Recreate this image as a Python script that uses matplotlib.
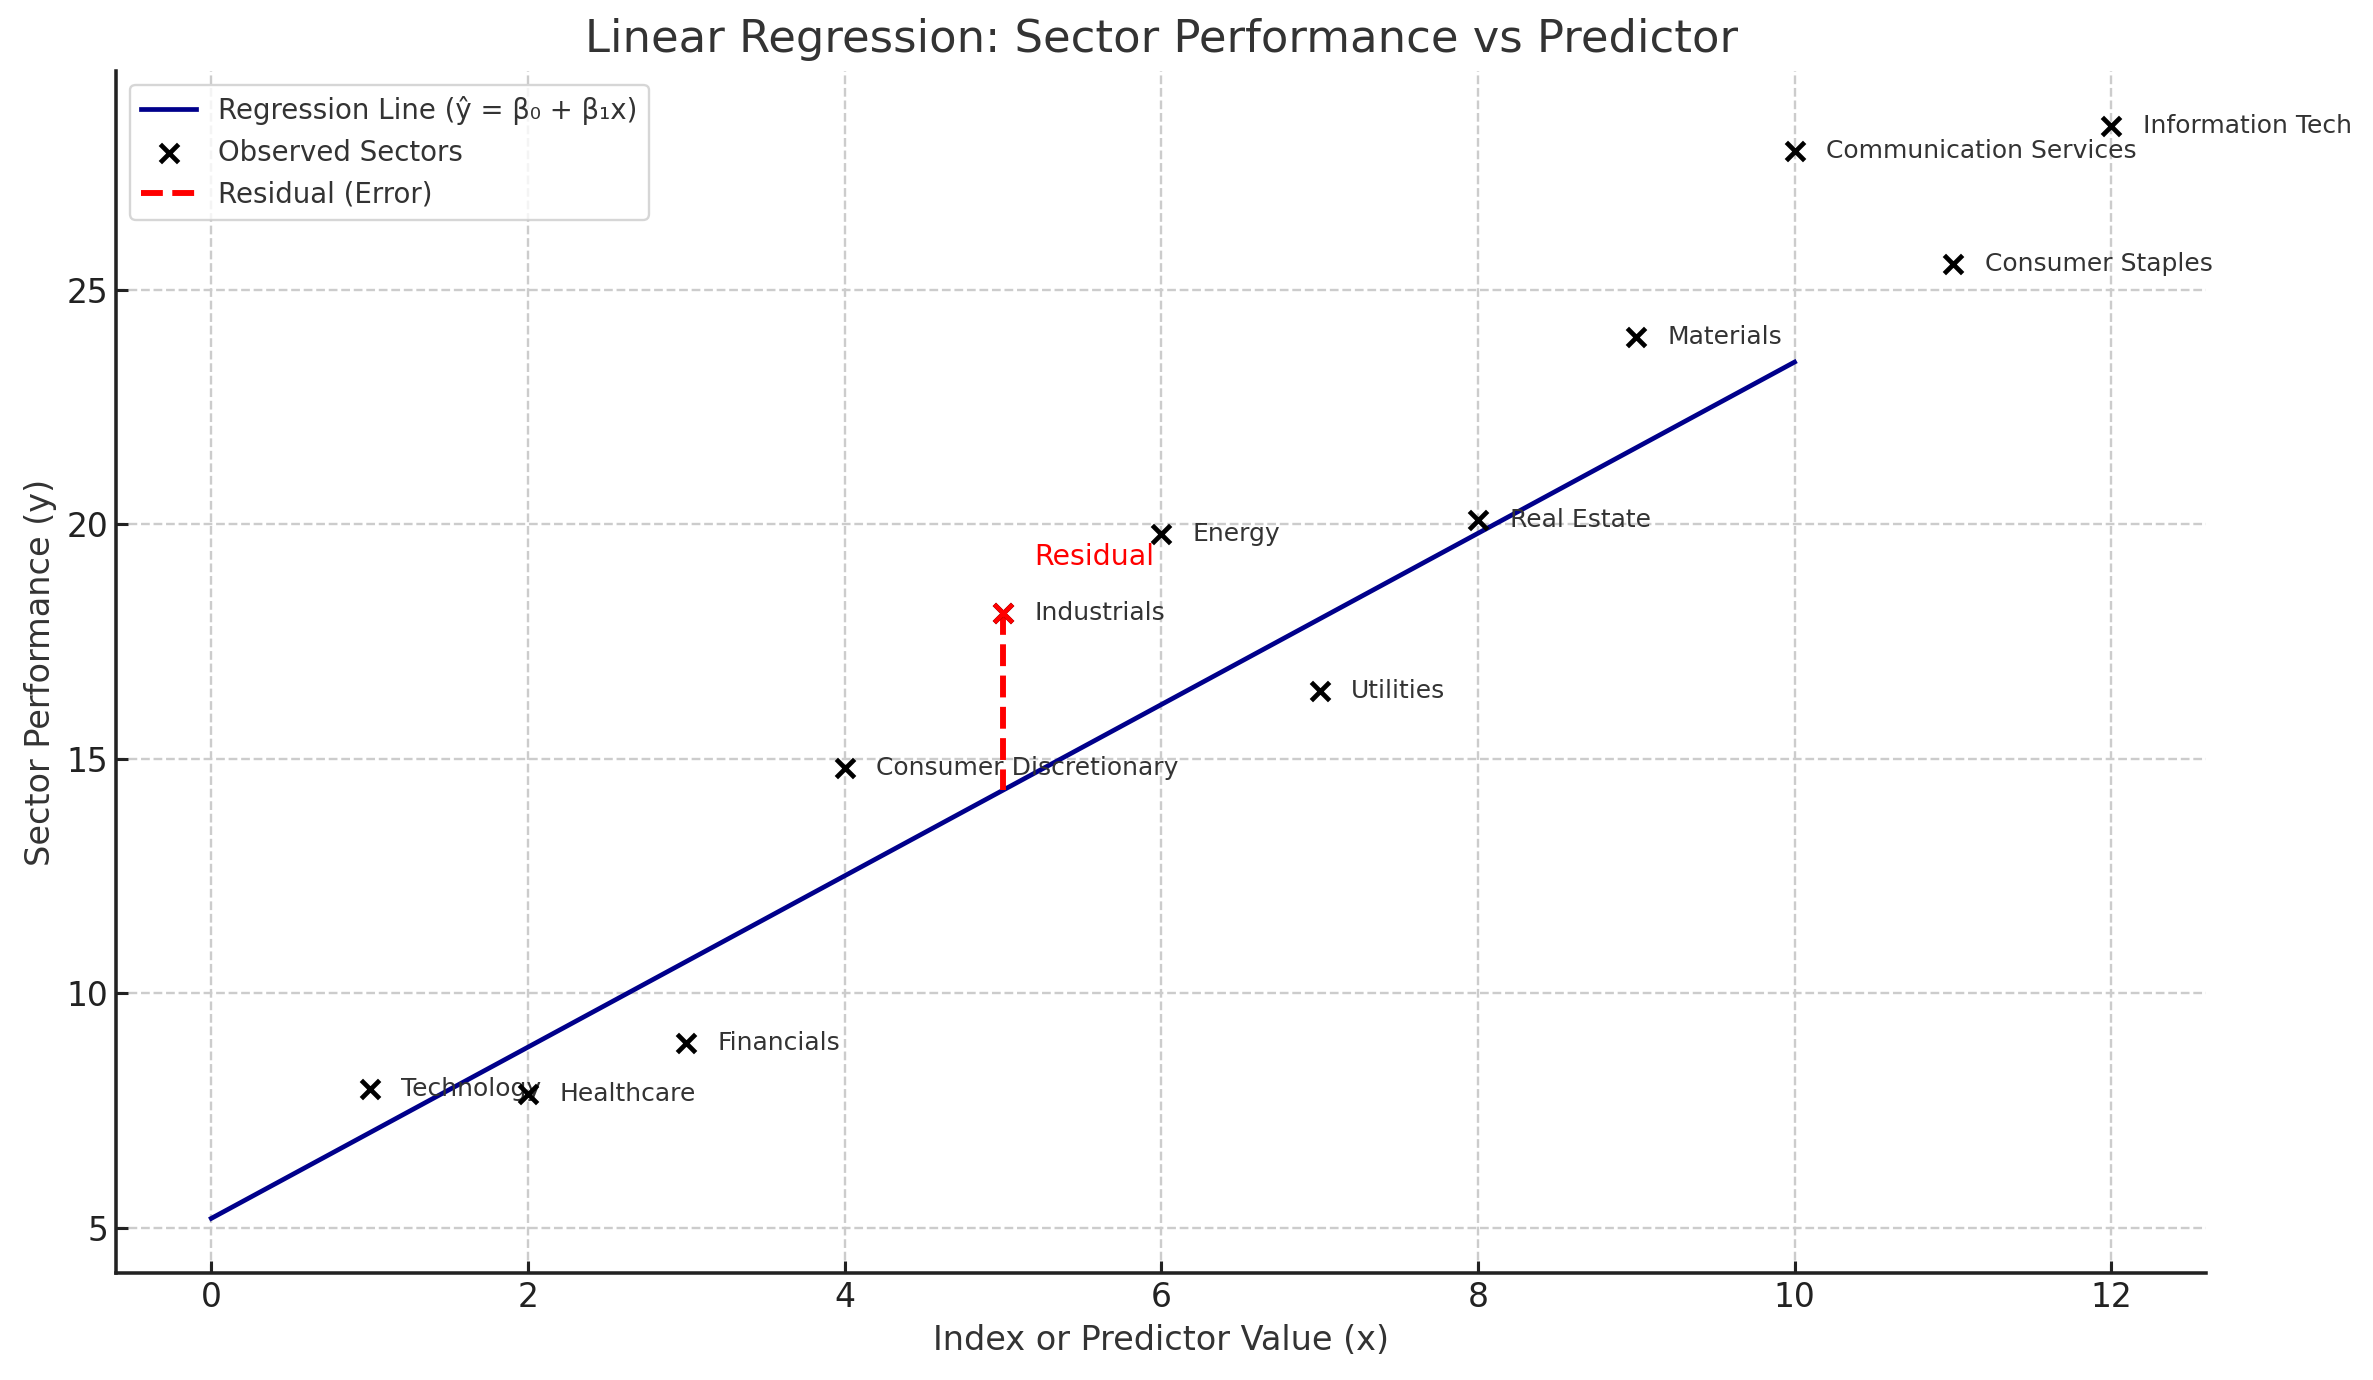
import numpy as np
import matplotlib.pyplot as plt

# data
sectors = ["Technology", "Healthcare", "Financials", "Consumer Discretionary",
           "Industrials", "Energy", "Utilities", "Real Estate", "Materials",
           "Communication Services", "Consumer Staples", "Information Tech"]
x_vals = [1, 2, 3, 4, 5, 6, 7, 8, 9, 10, 11, 12]
y_vals = [7.95, 7.85, 8.95, 14.8, 18.1, 19.8, 16.45, 20.1, 24.0, 27.95, 25.55, 28.5]
beta0 = 5.2
beta1 = 1.826
line_x = [0, 10]
highlight = "Industrials"

TXT = "#333333"
plt.rcParams["text.color"] = TXT
plt.rcParams["axes.labelcolor"] = TXT
plt.rcParams["xtick.color"] = "#222222"
plt.rcParams["ytick.color"] = "#222222"

fig = plt.figure(figsize=(2373/170, 1380/170), dpi=170)
ax = fig.add_axes([0.049, 0.0775, 0.8807, 0.871])

lx = np.array(line_x, dtype=float)
ax.plot(lx, beta0 + beta1*lx, color="#00008B", lw=2,
        label="Regression Line (ŷ = β₀ + β₁x)", zorder=3)
ax.scatter(x_vals, y_vals, marker="x", color="black", s=60, linewidths=2,
           label="Observed Sectors", zorder=4)

i = sectors.index(highlight)
xi, yi = x_vals[i], y_vals[i]
yhat = beta0 + beta1*xi
ax.plot([xi, xi], [yi, yhat], color="red", ls="--", lw=2.5,
        label="Residual (Error)", zorder=3)
ax.scatter([xi], [yi], marker="x", color="red", s=60, linewidths=2, zorder=5)
ax.text(xi + 0.2, yi + 1.2, "Residual", color="red", fontsize=12, va="center")

for name, xv, yv in zip(sectors, x_vals, y_vals):
    ax.text(xv + 0.2, yv, name, fontsize=10.6, va="center", color=TXT)

ax.set_title("Linear Regression: Sector Performance vs Predictor", fontsize=19,
             color=TXT, pad=8)
ax.set_xlabel("Index or Predictor Value (x)", fontsize=14.2)
ax.set_ylabel("Sector Performance (y)", fontsize=14.2)
ax.set_xticks(np.arange(0, 13, 2))
ax.set_yticks([5, 10, 15, 20, 25])
ax.tick_params(direction="in", length=5, width=1.3, labelsize=14)
ax.grid(True, ls="--", color="#cccccc", lw=1)
ax.set_axisbelow(True)
for s in ["top", "right"]:
    ax.spines[s].set_visible(False)
for s in ["left", "bottom"]:
    ax.spines[s].set_color("#222222")
    ax.spines[s].set_linewidth(1.5)

ax.legend(loc="upper left", fontsize=11.7)

fig.savefig("out.png", dpi=170)
